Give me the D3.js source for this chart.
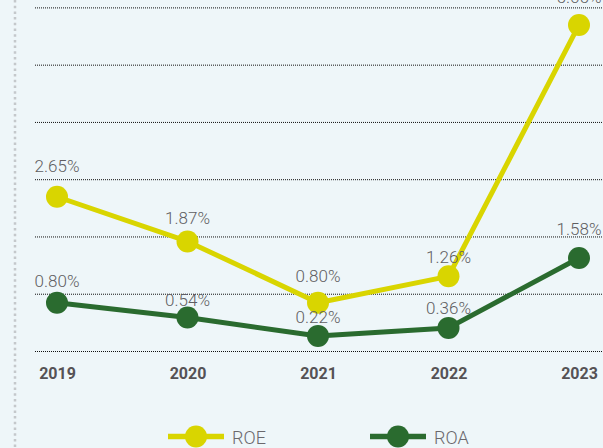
<!DOCTYPE html>
<html>
<head>
<meta charset="utf-8">
<script src="https://cdn.jsdelivr.net/npm/d3@7/dist/d3.min.js"></script>
<style>
  html, body { margin: 0; padding: 0; background: #eef6f9; }
  svg { display: block; }
</style>
</head>
<body>
<svg id="chart" width="603" height="448"></svg>
<script>
// Years on the x axis
const years = ["2019", "2020", "2021", "2022", "2023"];
// Return on equity, %
const roe = [2.65, 1.87, 0.80, 1.26, 5.65];
// Return on assets, %
const roa = [0.80, 0.54, 0.22, 0.36, 1.58];
// Gridline values, %
const gridTicks = [0, 1, 2, 3, 4, 5, 6];

const W = 603, H = 448;
const svg = d3.select("#chart");

svg.append("rect").attr("width", W).attr("height", H).attr("fill", "#eef6f9");

const x = d3.scalePoint().domain(years).range([57, 579]);
const y = d3.scaleLinear().domain([0, 6]).range([348.5, 4.9]);

const series = [
  { name: "ROE", values: roe, color: "#d9d500", lift: [25, 17, 21, 13, 22], legendX: 168 },
  { name: "ROA", values: roa, color: "#2a6b2f", lift: [16, 12, 13, 14, 23], legendX: 370 }
];

// Left dotted rule
svg.append("line")
  .attr("x1", 15).attr("x2", 15).attr("y1", 0).attr("y2", H)
  .attr("stroke", "#c4c8cb").attr("stroke-width", 2.5)
  .attr("stroke-dasharray", "2.5,3.2");

// Horizontal dotted gridlines
const gridShift = 2.5;
const yAxis = d3.axisLeft(y).tickValues(gridTicks).tickSize(-(W - 35)).tickFormat("");
const grid = svg.append("g")
  .attr("transform", `translate(35,${gridShift})`)
  .call(yAxis);
grid.select(".domain").remove();
grid.selectAll(".tick line")
  .attr("stroke", "#111").attr("stroke-width", 1)
  .attr("stroke-dasharray", "1,1");

// Year labels
const xAxis = d3.axisBottom(x).tickSize(0).tickPadding(0);
const xg = svg.append("g").attr("transform", "translate(0,368)").call(xAxis);
xg.select(".domain").remove();
xg.selectAll(".tick text")
  .attr("dy", "0.71em")
  .attr("font-family", "Roboto, 'DejaVu Sans', sans-serif")
  .attr("font-size", 16).attr("font-weight", 700)
  .attr("fill", "#555255");

const line = d3.line().x((d, i) => x(years[i])).y(d => y(d));

series.forEach(s => {
  svg.append("path")
    .datum(s.values)
    .attr("d", line)
    .attr("fill", "none")
    .attr("stroke", s.color)
    .attr("stroke-width", 5)
    .attr("stroke-linejoin", "round");

  svg.selectAll(null).data(s.values).enter().append("circle")
    .attr("cx", (d, i) => x(years[i]))
    .attr("cy", d => y(d))
    .attr("r", 11)
    .attr("fill", s.color);

  svg.selectAll(null).data(s.values).enter().append("text")
    .attr("x", (d, i) => x(years[i]))
    .attr("y", (d, i) => y(d) - s.lift[i])
    .attr("text-anchor", "middle")
    .attr("font-family", "Roboto, 'DejaVu Sans', sans-serif")
    .attr("font-size", 17)
    .attr("font-weight", 300)
    .attr("fill", "#5f5e62")
    .text(d => d.toFixed(2) + "%");
});

// Legend
const legendY = 436.5;
series.forEach(s => {
  const g = svg.append("g");
  g.append("line")
    .attr("x1", s.legendX).attr("x2", s.legendX + 56)
    .attr("y1", legendY).attr("y2", legendY)
    .attr("stroke", s.color).attr("stroke-width", 5.5);
  g.append("circle")
    .attr("cx", s.legendX + 28).attr("cy", legendY).attr("r", 11)
    .attr("fill", s.color);
  g.append("text")
    .attr("x", s.legendX + 64).attr("y", legendY + 7)
    .attr("font-family", "Roboto, 'DejaVu Sans', sans-serif")
    .attr("font-size", 18)
    .attr("font-weight", 300)
    .attr("fill", "#6a686c")
    .text(s.name);
});
</script>
</body>
</html>
